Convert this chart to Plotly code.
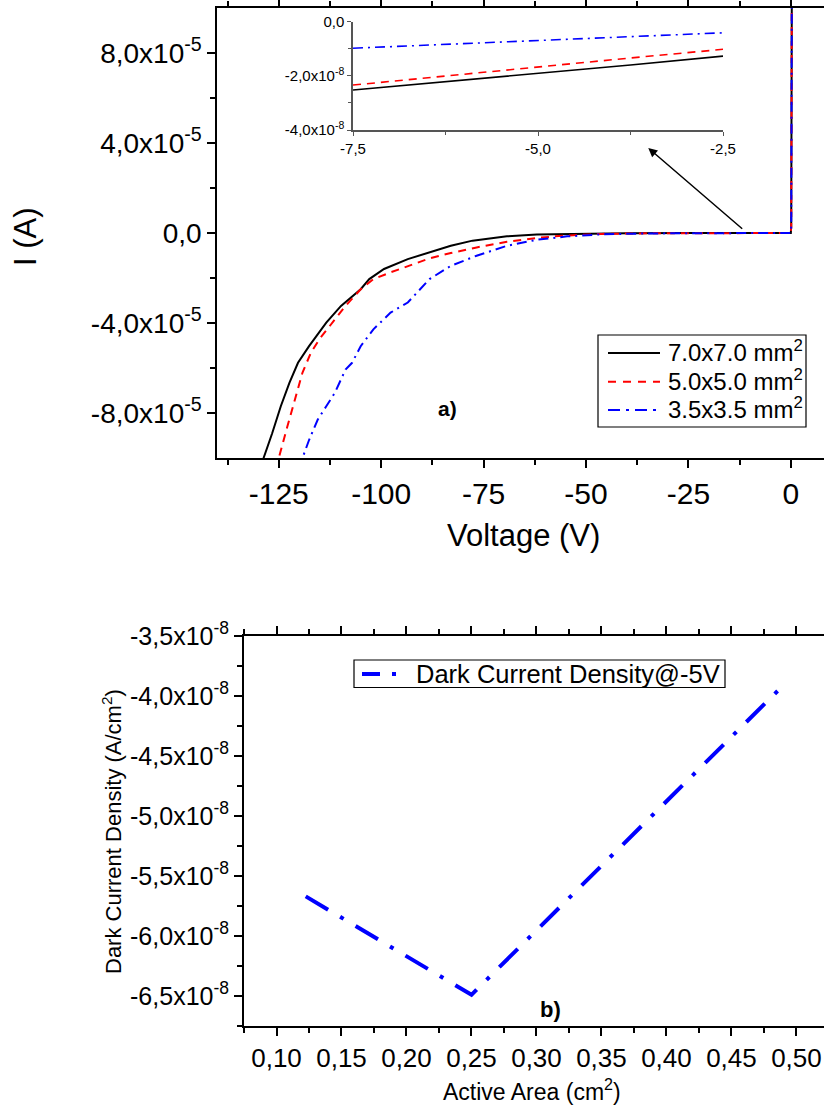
import plotly.graph_objects as go

# ---------------- data ----------------
# Panel a) main I-V curves (Voltage in V, current in 1e-5 A)
v_77 = [-129.5, -128.7, -126.6, -124.5, -122.4, -120.3, -117.6, -113.4, -109.8, -105.0, -102.9, -99.3,
        -93.5, -88.2, -83.0, -77.7, -69.3, -62.0, -51.5, -40.0, -25.0, -10.0, 0.0, 0.1, 0.2, 0.3]
i_77 = [-10.5, -10.0, -8.9, -7.7, -6.66, -5.77, -5.03, -3.98, -3.24, -2.5, -2.05, -1.6,
        -1.16, -0.86, -0.57, -0.34, -0.15, -0.07, -0.03, -0.01, -0.005, -0.002, 0.0, 0.3, 3.0, 15.0]

v_55 = [-125.3, -125.0, -122.9, -120.8, -119.2, -117.1, -115.0, -112.4, -108.7, -105.0, -101.9, -97.7,
        -93.5, -88.2, -83.0, -76.7, -69.3, -62.0, -55.7, -46.2, -35.0, -20.0, -5.0, 0.0, 0.1, 0.2, 0.3]
i_55 = [-10.5, -10.0, -8.6, -7.26, -6.2, -5.3, -4.7, -4.1, -3.24, -2.5, -2.05, -1.75,
        -1.46, -1.13, -0.89, -0.64, -0.39, -0.22, -0.12, -0.04, -0.015, -0.005, -0.002, 0.0, 0.3, 3.0, 15.0]

v_35 = [-119.6, -119.2, -117.6, -115.5, -113.4, -111.3, -108.7, -107.1, -105.0, -101.9, -97.7, -93.5,
        -88.2, -83.0, -76.7, -69.3, -62.0, -54.6, -46.2, -35.0, -20.0, -5.0, 0.0, 0.1, 0.2, 0.3]
i_35 = [-10.5, -10.0, -9.2, -8.3, -7.7, -7.1, -6.07, -5.77, -5.03, -4.28, -3.54, -3.09,
        -2.05, -1.46, -1.01, -0.57, -0.30, -0.15, -0.06, -0.02, -0.008, -0.002, 0.0, 0.3, 3.0, 15.0]

# Inset (Voltage in V, current in 1e-8 A)
v_inset = [-7.5, -6.25, -5.0, -3.75, -2.5]
i_inset_77 = [-2.52, -2.22, -1.92, -1.60, -1.27]
i_inset_55 = [-2.34, -2.00, -1.67, -1.34, -1.02]
i_inset_35 = [-0.98, -0.84, -0.69, -0.55, -0.41]

names = ["7.0x7.0 mm<sup>2</sup>", "5.0x5.0 mm<sup>2</sup>", "3.5x3.5 mm<sup>2</sup>"]

# Panel b) dark current density vs active area
area = [0.1225, 0.25, 0.49]          # cm^2
jdark = [-5.67, -6.49, -3.91]        # 1e-8 A/cm^2
name_b = "Dark Current Density@-5V"

# tick labels
ya_vals = [-8e-5, -4e-5, 0, 4e-5, 8e-5]
ya_text = ["-8,0x10<sup>-5</sup>", "-4,0x10<sup>-5</sup>", "0,0", "4,0x10<sup>-5</sup>", "8,0x10<sup>-5</sup>"]
xa_vals = [-125, -100, -75, -50, -25, 0]
xa_text = ["-125", "-100", "-75", "-50", "-25", "0"]
yi_vals = [-4e-8, -2e-8, 0]
yi_text = ["-4,0x10<sup>-8</sup>", "-2,0x10<sup>-8</sup>", "0,0"]
xi_vals = [-7.5, -5.0, -2.5]
xi_text = ["-7,5", "-5,0", "-2,5"]
yb_vals = [-6.5e-8, -6.0e-8, -5.5e-8, -5.0e-8, -4.5e-8, -4.0e-8, -3.5e-8]
yb_text = ["-6,5x10<sup>-8</sup>", "-6,0x10<sup>-8</sup>", "-5,5x10<sup>-8</sup>", "-5,0x10<sup>-8</sup>",
           "-4,5x10<sup>-8</sup>", "-4,0x10<sup>-8</sup>", "-3,5x10<sup>-8</sup>"]
xb_vals = [0.10, 0.15, 0.20, 0.25, 0.30, 0.35, 0.40, 0.45, 0.50]
xb_text = ["0,10", "0,15", "0,20", "0,25", "0,30", "0,35", "0,40", "0,45", "0,50"]

# ---------------- figure ----------------
W, H = 824, 1110
FONT = "Liberation Sans, Arial, sans-serif"


def px(x):
    return x / W


def py(y):
    return 1 - y / H


colors = ["black", "red", "blue"]
dashes = ["solid", "8px,6px", "10px,5px,2px,5px"]
leg_dashes = ["solid", "8px,7px", "12px,6px,3px,6px"]

fig = go.Figure()
main_sets = [(v_77, i_77), (v_55, i_55), (v_35, i_35)]
for (v, i), nm, c, d in zip(main_sets, names, colors, dashes):
    fig.add_trace(go.Scatter(x=v, y=[k * 1e-5 for k in i], mode="lines", name=nm,
                             line=dict(color=c, width=2, dash=d), showlegend=False,
                             xaxis="x", yaxis="y"))

for ii, c, d in zip([i_inset_77, i_inset_55, i_inset_35], colors, dashes):
    fig.add_trace(go.Scatter(x=v_inset, y=[k * 1e-8 for k in ii], mode="lines", showlegend=False,
                             line=dict(color=c, width=1.6, dash=d),
                             xaxis="x3", yaxis="y3"))

fig.add_trace(go.Scatter(x=area, y=[k * 1e-8 for k in jdark], mode="lines",
                         name=name_b, showlegend=False,
                         line=dict(color="blue", width=4, dash="26px,14px,4px,14px"),
                         xaxis="x2", yaxis="y2"))

axis_common = dict(showline=True, linecolor="black", linewidth=2, ticks="outside",
                   tickcolor="black", tickwidth=2, showgrid=False, zeroline=False,
                   automargin=False, tickmode="array")

fig.update_layout(
    width=W, height=H, template="none",
    margin=dict(l=0, r=0, t=0, b=0),
    paper_bgcolor="white", plot_bgcolor="white",
    font=dict(family=FONT, color="black"),
    showlegend=False,
    xaxis=dict(axis_common, domain=[px(217.3), 1], range=[-140, 8.1], anchor="y",
               tickvals=xa_vals, ticktext=xa_text, ticklen=8, mirror="ticks",
               tickfont=dict(size=30),
               minor=dict(tickvals=[-137.5, -112.5, -87.5, -62.5, -37.5, -12.5], ticklen=5,
                          ticks="outside", tickcolor="black", tickwidth=1.5)),
    yaxis=dict(axis_common, domain=[py(458), py(8)], range=[-1e-4, 1e-4], anchor="x",
               tickvals=ya_vals, ticktext=ya_text, ticklen=8,
               tickfont=dict(size=28),
               minor=dict(tickvals=[-6e-5, -2e-5, 2e-5, 6e-5], ticklen=5,
                          ticks="outside", tickcolor="black", tickwidth=1.5)),
    xaxis3=dict(axis_common, domain=[px(353), px(723)], range=[-7.5, -2.5], anchor="y3",
                linecolor="#555555", linewidth=1.5, tickcolor="#555555", tickwidth=1.2,
                tickvals=xi_vals, ticktext=xi_text, ticklen=4, tickfont=dict(size=15),
                minor=dict(tickvals=[-6.25, -3.75], ticklen=3, ticks="outside",
                           tickcolor="#555555", tickwidth=1)),
    yaxis3=dict(axis_common, domain=[py(130), py(21.7)], range=[-4e-8, 0], anchor="x3",
                linecolor="#555555", linewidth=1.5, tickcolor="#555555", tickwidth=1.2,
                tickvals=yi_vals, ticktext=yi_text, ticklen=4, tickfont=dict(size=15),
                minor=dict(tickvals=[-3e-8, -1e-8], ticklen=3, ticks="outside",
                           tickcolor="#555555", tickwidth=1)),
    xaxis2=dict(axis_common, domain=[px(244), 1], range=[0.075, 0.5212], anchor="y2",
                tickvals=xb_vals, ticktext=xb_text, ticklen=8, mirror="ticks",
                tickfont=dict(size=26),
                minor=dict(tickvals=[0.075, 0.125, 0.175, 0.225, 0.275, 0.325, 0.375, 0.425, 0.475, 0.525],
                           ticklen=5, ticks="outside", tickcolor="black", tickwidth=1.5)),
    yaxis2=dict(axis_common, domain=[py(1026), py(636)], range=[-6.75e-8, -3.5e-8], anchor="x2",
                tickvals=yb_vals, ticktext=yb_text, ticklen=8,
                tickfont=dict(size=25),
                minor=dict(tickvals=[-6.75e-8, -6.25e-8, -5.75e-8, -5.25e-8, -4.75e-8, -4.25e-8, -3.75e-8],
                           ticklen=5, ticks="outside", tickcolor="black", tickwidth=1.5)),
)

# ---- legends drawn as boxes, sample lines and labels ----
shapes = [
    dict(type="rect", xref="paper", yref="paper", x0=px(598), x1=px(806), y0=py(427), y1=py(335),
         line=dict(color="black", width=1.2), fillcolor="white", layer="above"),
    dict(type="rect", xref="paper", yref="paper", x0=px(354), x1=px(725), y0=py(687.5), y1=py(660),
         line=dict(color="black", width=1.2), fillcolor="white", layer="above"),
    dict(type="line", xref="paper", yref="paper", x0=px(362), x1=px(397), y0=py(674), y1=py(674),
         line=dict(color="blue", width=4, dash="18px,12px,4px,20px"), layer="above"),
]
row_y = [353, 381.7, 410]
for yy, c, d in zip(row_y, colors, leg_dashes):
    shapes.append(dict(type="line", xref="paper", yref="paper", x0=px(608), x1=px(660),
                       y0=py(yy), y1=py(yy), line=dict(color=c, width=2, dash=d), layer="above"))

annotations = [
    dict(text="I (A)", x=px(25), y=py(237), xref="paper", yref="paper", showarrow=False,
         textangle=-90, font=dict(size=31), xanchor="center", yanchor="middle"),
    dict(text="Voltage (V)", x=px(523), y=py(535), xref="paper", yref="paper", showarrow=False,
         font=dict(size=31), xanchor="center", yanchor="middle"),
    dict(text="<b>a)</b>", x=px(447), y=py(408), xref="paper", yref="paper", showarrow=False,
         font=dict(size=21), xanchor="center", yanchor="middle"),
    dict(text="Dark Current Density (A/cm<sup>2</sup>)", x=px(112), y=py(832), xref="paper", yref="paper",
         showarrow=False, textangle=-90, font=dict(size=22), xanchor="center", yanchor="middle"),
    dict(text="Active Area (cm<sup>2</sup>)", x=px(532), y=py(1090), xref="paper", yref="paper",
         showarrow=False, font=dict(size=23), xanchor="center", yanchor="middle"),
    dict(text="<b>b)</b>", x=px(550), y=py(1009), xref="paper", yref="paper", showarrow=False,
         font=dict(size=22), xanchor="center", yanchor="middle"),
    dict(text=name_b, x=px(414), y=py(674), xref="paper", yref="paper", showarrow=False,
         font=dict(size=25.5), xanchor="left", yanchor="middle"),
    dict(x=-34.8, y=3.78e-5, ax=-11.5, ay=0.13e-5, xref="x", yref="y", axref="x", ayref="y",
         text="", showarrow=True, arrowhead=2, arrowsize=1.2, arrowwidth=1.5, arrowcolor="black"),
]
for yy, nm in zip(row_y, names):
    annotations.append(dict(text=nm, x=px(666), y=py(yy - 2), xref="paper", yref="paper",
                            showarrow=False, font=dict(size=24), xanchor="left", yanchor="middle"))

fig.update_layout(shapes=shapes, annotations=annotations)

fig.write_html("out.html")
